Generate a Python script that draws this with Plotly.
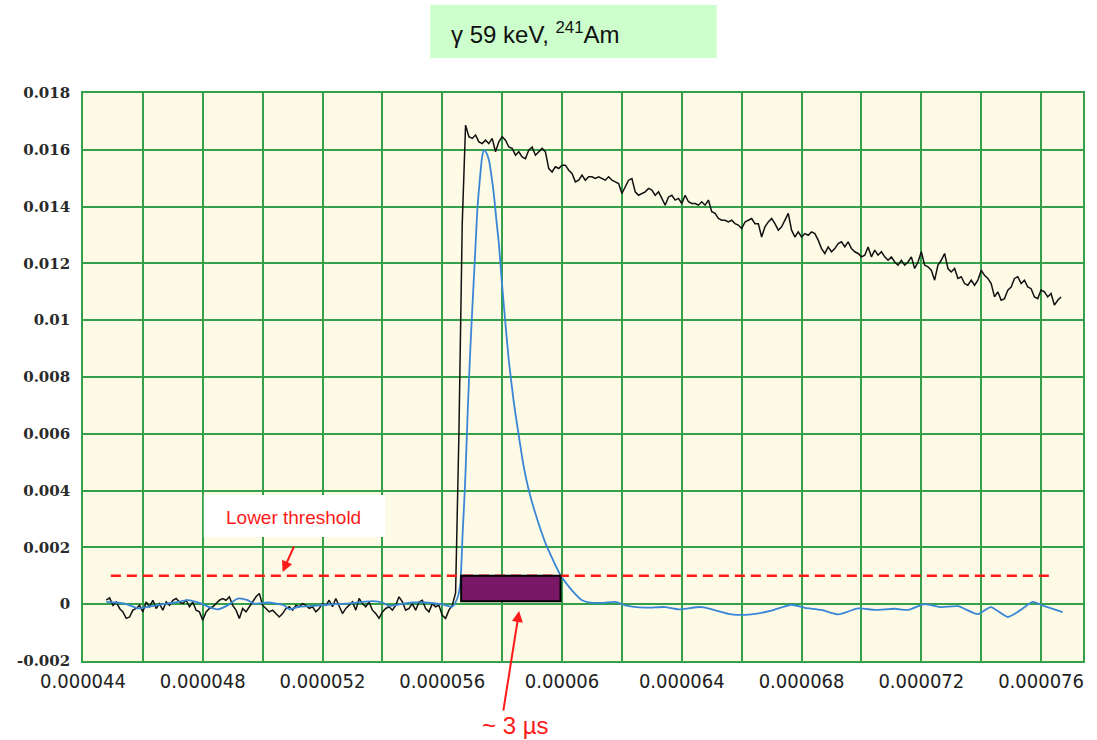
import plotly.graph_objects as go

# ---------------- data ----------------
# black trace: uniformly sampled, values in mV (1 mV = 0.001 on the axis)
BLACK_T0_US = 44 + 7 / 9
BLACK_DT_US = 1 / 9

black_baseline_a_mv = [0.14, 0.22, -0.04, 0.08, -0.15, -0.27, -0.50, -0.45, -0.21, -0.15,
                       -0.04, -0.27, 0.08, -0.09, 0.14, -0.15, 0.02, -0.21, 0.08, -0.04,
                       0.14, 0.20, 0.08, 0.02, 0.14, -0.09, 0.08, -0.21, -0.27, -0.56,
                       -0.27, -0.15, -0.09, 0.02, 0.14, 0.20, 0.14, 0.26, -0.04, -0.21,
                       -0.50, -0.15, -0.27, -0.09, 0.08, 0.26, 0.38, -0.04, -0.15, -0.27,
                       -0.21, -0.33, -0.45, -0.33]
black_baseline_b_mv = [-0.15, -0.09, -0.21, -0.04, -0.09, 0.02, -0.04, -0.15, -0.09, -0.27,
                       -0.15, 0.02, -0.04, 0.14, -0.09, 0.20, -0.04, -0.33, -0.15, -0.04,
                       0.08, -0.21, 0.20, 0.02, -0.09, 0.08, -0.21, -0.33, -0.50, -0.27,
                       -0.15, -0.09, -0.21, -0.04, 0.26, 0.08, -0.21, -0.15, 0.02, -0.21,
                       0.08, 0.14, -0.15, -0.27, 0.02, -0.09, -0.04, -0.39, -0.50, -0.21,
                       -0.04]
black_rise_mv = [0.4, 6.0, 13.4]
black_decay_a_mv = [16.87, 16.46, 16.40, 16.52, 16.28, 16.22, 16.34, 16.22, 16.40, 15.93,
                    16.28, 16.46, 16.34, 16.10, 16.05, 15.81, 15.93, 15.75, 15.69, 15.99,
                    16.10, 15.81, 15.93, 16.05, 15.93, 15.34, 15.22, 15.40, 15.34, 15.46,
                    15.46, 15.28, 15.17, 14.87, 14.93, 15.11, 14.93, 15.05, 15.05, 14.99,
                    15.05, 14.99, 14.93, 15.05, 14.93, 14.87, 14.81, 14.46, 14.70, 14.93,
                    14.99, 14.52, 14.40, 14.46, 14.52, 14.64, 14.58, 14.40, 14.52, 14.29,
                    14.05, 14.34, 14.40, 14.23, 14.29, 14.11, 14.40, 14.17, 14.11, 14.11,
                    14.05, 14.17, 14.05, 14.23, 13.82, 13.76]
black_decay_b_mv = [13.58, 13.52, 13.52, 13.46, 13.52, 13.40, 13.35, 13.23, 13.46, 13.52,
                    13.58, 13.40]
black_decay_c_mv = [13.40, 12.93, 13.29, 13.46, 13.58, 13.40, 13.17, 13.29, 13.52, 13.76,
                    13.17, 12.93, 13.11, 12.93, 13.05, 12.99, 13.11, 13.05, 12.82, 12.52,
                    12.35, 12.58, 12.41, 12.52, 12.70, 12.76, 12.58, 12.76, 12.52, 12.41,
                    12.35, 12.23, 12.29, 12.58, 12.23, 12.47, 12.29, 12.41, 12.23, 12.11,
                    12.23, 12.05, 11.94, 12.11, 11.94, 12.05, 12.23, 11.82, 12.05, 12.41,
                    11.94, 11.88, 11.76, 11.41, 11.94, 12.11, 12.35, 11.82, 11.70, 11.82,
                    11.47, 11.53, 11.29, 11.23, 11.41, 11.23, 11.41, 11.76, 11.58, 11.47,
                    11.29, 10.82, 11.00, 10.70, 10.76, 11.06, 11.17, 11.47, 11.53, 11.29,
                    11.41, 11.17, 11.11, 10.82, 10.76, 11.06, 11.00, 10.82, 10.94, 10.53,
                    10.70, 10.82]

# blue (shaped) trace
blue_t_us = [44.78, 45.06, 45.39, 45.61, 45.83, 46.17, 46.61, 47.06, 47.50, 47.95,
             48.28, 48.50, 48.83, 49.17, 49.50, 49.72, 50.17, 50.72, 50.89, 51.22,
             51.67, 52.22, 52.78, 53.33, 53.67, 54.00, 54.22, 54.56, 55.00, 55.44,
             56.00, 56.33, 56.50, 56.60, 56.68, 56.76, 56.85, 56.92, 57.00, 57.10,
             57.17, 57.25, 57.33, 57.39, 57.47, 57.56, 57.64, 57.72, 57.80, 57.89,
             57.97, 58.06, 58.22, 58.39, 58.56, 58.72, 58.89, 59.11, 59.45, 59.70,
             59.95, 60.33, 60.67, 61.00, 61.40, 61.78, 62.11, 62.78, 63.45, 63.89,
             64.66, 65.66, 66.32, 66.99, 67.66, 68.11, 68.66, 69.22, 69.89, 70.45,
             71.11, 71.56, 72.11, 72.66, 73.22, 73.89, 74.32, 74.89, 75.32, 75.72,
             76.11, 76.72]
blue_mv = [0.08, 0.06, 0.02, -0.06, -0.15, -0.09, -0.01, 0.06, 0.14, 0.02,
           -0.13, -0.18, -0.04, 0.20, 0.14, 0.02, 0.06, -0.04, -0.18, -0.09,
           -0.06, -0.01, 0.02, 0.08, 0.11, 0.06, -0.06, -0.01, 0.06, 0.06,
           -0.01, -0.09, 0.20, 0.70, 2.50, 4.20, 6.80, 8.60, 10.35, 12.40,
           13.87, 14.90, 15.75, 15.99, 15.90, 15.63, 15.10, 14.46, 13.60, 12.70,
           11.60, 10.47, 8.60, 7.10, 5.90, 4.85, 4.01, 3.19, 2.14, 1.55,
           1.02, 0.49, 0.14, 0.05, 0.05, 0.08, -0.04, -0.12, -0.10, -0.18,
           -0.10, -0.36, -0.36, -0.23, -0.02, -0.13, -0.20, -0.36, -0.15, -0.20,
           -0.16, -0.20, 0.00, -0.10, -0.07, -0.35, -0.10, -0.45, -0.20, 0.08,
           -0.07, -0.28]

threshold_mv = 1.0
threshold_t_us = [44.93, 76.43]
gate_t_us = [56.63, 59.95]
gate_mv = [0.1, 1.0]

x_tick_us = [44, 46, 48, 50, 52, 54, 56, 58, 60, 62, 64, 66, 68, 70, 72, 74, 76]
x_tick_text = ["0.000044", "", "0.000048", "", "0.000052", "", "0.000056", "",
               "0.00006", "", "0.000064", "", "0.000068", "", "0.000072", "", "0.000076"]
y_tick_vals = [-0.002, 0, 0.002, 0.004, 0.006, 0.008, 0.010, 0.012, 0.014, 0.016, 0.018]
y_tick_text = ["-0.002", "0", "0.002", "0.004", "0.006", "0.008", "0.01",
               "0.012", "0.014", "0.016", "0.018"]

title_text = "γ 59 keV, <sup>241</sup>Am"
threshold_label = "Lower threshold"
gate_label = "~ 3 µs"

# ---------------- figure ----------------
W, H = 1097, 740
PL, PR, PT, PB = 83, 1085, 93, 661


def px(x):
    return (x - PL) / (PR - PL)


def py(y):
    return (PB - y) / (PB - PT)


black_mv = (black_baseline_a_mv + black_baseline_b_mv + black_rise_mv
            + black_decay_a_mv + black_decay_b_mv + black_decay_c_mv)
black_x = [(BLACK_T0_US + i * BLACK_DT_US) * 1e-6 for i in range(len(black_mv))]
black_y = [v / 1000 for v in black_mv]

GRID = "#35a04a"

fig = go.Figure()
fig.add_trace(go.Scatter(x=black_x, y=black_y, mode="lines",
                         line=dict(color="#111111", width=1.5), showlegend=False))
fig.add_trace(go.Scatter(x=[t * 1e-6 for t in blue_t_us], y=[v / 1000 for v in blue_mv],
                         mode="lines", line=dict(color="#3a86d6", width=1.8, shape="spline",
                                                  smoothing=0.6),
                         showlegend=False))
fig.add_trace(go.Scatter(x=[t * 1e-6 for t in threshold_t_us],
                         y=[threshold_mv / 1000] * 2, mode="lines",
                         line=dict(color="#ff1a1a", width=2.6, dash="10px,6px"),
                         showlegend=False))

shapes = [
    dict(type="rect", xref="x", yref="y",
         x0=gate_t_us[0] * 1e-6, x1=gate_t_us[1] * 1e-6,
         y0=gate_mv[0] / 1000, y1=gate_mv[1] / 1000,
         fillcolor="#7a1868", line=dict(color="#000000", width=2), layer="above"),
    dict(type="rect", xref="paper", yref="paper",
         x0=px(431), x1=px(718), y0=py(58), y1=py(5),
         fillcolor="#ccffcc", line=dict(width=0), layer="above"),
    dict(type="rect", xref="paper", yref="paper",
         x0=px(204), x1=px(386), y0=py(537), y1=py(495),
         fillcolor="#ffffff", line=dict(width=0), layer="above"),
]

annotations = [
    dict(text=title_text, xref="paper", yref="paper", x=px(450), y=py(33),
         xanchor="left", yanchor="middle", showarrow=False,
         font=dict(family="Liberation Sans, Arial", size=24, color="#111111")),
    dict(text=threshold_label, xref="paper", yref="paper", x=px(294), y=py(517),
         xanchor="center", yanchor="middle", showarrow=False,
         font=dict(family="Liberation Sans, Arial", size=19, color="#ff1a1a")),
    dict(text="", xref="paper", yref="paper", x=px(283), y=py(572),
         ax=12, ay=-27, showarrow=True, arrowhead=2, arrowsize=1.1, arrowwidth=2,
         arrowcolor="#ff1a1a"),
    dict(text="", xref="paper", yref="paper", x=px(520), y=py(611),
         ax=-16, ay=101, showarrow=True, arrowhead=2, arrowsize=1.1, arrowwidth=2,
         arrowcolor="#ff1a1a"),
    dict(text=gate_label, xref="paper", yref="paper", x=px(516), y=py(725),
         xanchor="center", yanchor="middle", showarrow=False,
         font=dict(family="Liberation Sans, Arial", size=24, color="#ff1a1a")),
]

fig.update_layout(
    width=W, height=H,
    margin=dict(l=PL, r=W - PR, t=PT, b=H - PB, pad=0),
    paper_bgcolor="#ffffff", plot_bgcolor="#fdfae6",
    shapes=shapes, annotations=annotations, showlegend=False,
)
fig.update_xaxes(
    range=[44e-6, (44 + (PR - PL) / 30) * 1e-6],
    tickmode="array", tickvals=[t * 1e-6 for t in x_tick_us], ticktext=x_tick_text,
    showgrid=True, gridcolor=GRID, gridwidth=1.6, zeroline=False,
    showline=True, linecolor=GRID, linewidth=1.6, mirror=True,
    ticks="outside", ticklen=1, tickcolor="rgba(0,0,0,0)",
    tickfont=dict(family="DejaVu Sans Condensed, Liberation Sans, Arial", size=20,
                  color="#222222"),
)
fig.update_yaxes(
    range=[-0.002, 0.018],
    tickmode="array", tickvals=y_tick_vals, ticktext=y_tick_text,
    showgrid=True, gridcolor=GRID, gridwidth=1.6, zeroline=False,
    showline=True, linecolor=GRID, linewidth=1.6, mirror=True,
    ticks="outside", ticklen=8, tickcolor="rgba(0,0,0,0)",
    tickfont=dict(family="DejaVu Serif", size=15, color="#2a2a2a", weight="bold"),
)

fig.write_html("out.html")
